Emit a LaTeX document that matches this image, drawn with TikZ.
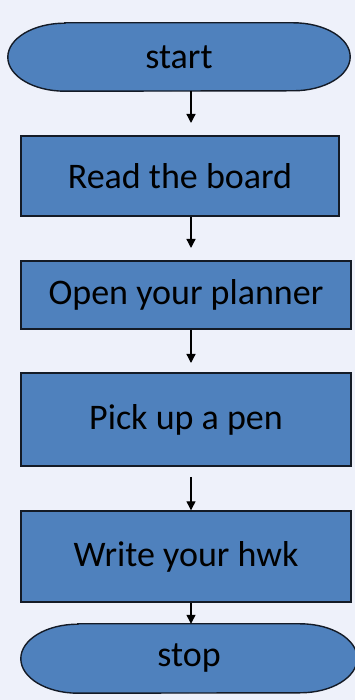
\documentclass[tikz,border=0pt]{standalone}
\usepackage{fontspec}
\setmainfont{Carlito}
\usetikzlibrary{backgrounds,arrows.meta}
\definecolor{bgc}{HTML}{EEF1FA}
\definecolor{boxfill}{HTML}{4F81BD}
\definecolor{boxline}{HTML}{141B26}
\tikzset{
  stepbox/.style={draw=boxline, line width=1.4pt, fill=boxfill, inner sep=0pt,
    font=\fontsize{36}{42}\selectfont, text=black},
  termtext/.style={inner sep=0pt, font=\fontsize{36}{42}\selectfont, text=black},
  termshape/.style={draw=boxline, line width=1.4pt, fill=boxfill},
  arr/.style={draw=black, line width=1.3pt, -{Triangle[length=9pt,width=9pt]}}
}
\begin{document}
\begin{tikzpicture}[x=1pt,y=1pt]
\useasboundingbox (0,0) rectangle (355,700);
% nodes
\node[termtext, minimum width=342pt, minimum height=68pt] (start) at (179,643) {start};
\node[stepbox, minimum width=318pt, minimum height=80pt] (read) at (180,524) {Read the board};
\node[stepbox, minimum width=330pt, minimum height=68pt] (open) at (186,405) {Open your planner};
\node[stepbox, minimum width=330pt, minimum height=93pt] (pick) at (186,280.5) {Pick up a pen};
\node[stepbox, minimum width=330pt, minimum height=91pt] (write) at (186,143.5) {Write your hwk};
\node[termtext, minimum width=336pt, minimum height=69pt] (stop) at (189,41.5) {stop};
% background and terminal shapes
\begin{pgfonlayer}{background}
\path[fill=bgc] (0,0) rectangle (355,700);
\path[termshape] ([xshift=57pt]start.north west) -- ([xshift=-57pt]start.north east)
  arc[start angle=90, end angle=-90, x radius=57pt, y radius=34pt]
  -- ([xshift=57pt]start.south west)
  arc[start angle=270, end angle=90, x radius=57pt, y radius=34pt] -- cycle;
\path[termshape] ([xshift=57pt]stop.north west) -- ([xshift=-57pt]stop.north east)
  arc[start angle=90, end angle=-90, x radius=57pt, y radius=34.5pt]
  -- ([xshift=57pt]stop.south west)
  arc[start angle=270, end angle=90, x radius=57pt, y radius=34.5pt] -- cycle;
\end{pgfonlayer}
% connectors
\coordinate (x0) at (191,0);
\coordinate (e1) at (191,577);
\coordinate (e2) at (191,452);
\coordinate (e3) at (191,337);
\coordinate (s4) at (191,223);
\draw[arr] (start.south -| x0) -- (e1);
\draw[arr] (read.south -| x0) -- (e2);
\draw[arr] (open.south -| x0) -- (e3);
\draw[arr] (s4) -- (write.north -| x0);
\draw[arr] (write.south -| x0) -- (stop.north -| x0);
\end{tikzpicture}
\end{document}
